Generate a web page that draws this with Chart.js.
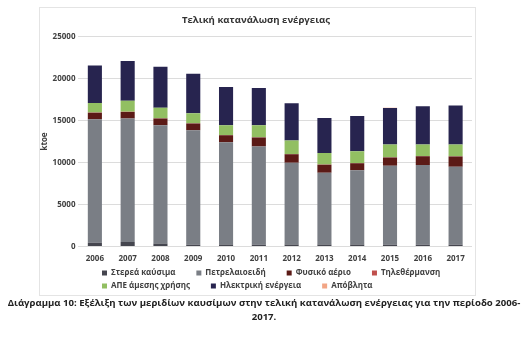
<!DOCTYPE html>
<html>
<head>
<meta charset="utf-8">
<script src="https://cdn.jsdelivr.net/npm/chart.js@4"></script>
<style>
  body { margin: 0; background: #fff; width: 528px; height: 337px; position: relative; font-family: "Open Sans", sans-serif; }
  #box { position: absolute; left: 39px; top: 7px; width: 437px; height: 289px; border: 1px solid #e4e4e4; box-sizing: border-box; }
  #wrap { position: absolute; left: 40px; top: 8px; width: 435px; height: 292px; }
  #caption { position: absolute; left: 0; top: 296px; width: 528px; text-align: center; font-size: 9.6px; font-weight: bold; color: #222; line-height: 14px; z-index: 2; }
</style>
</head>
<body>
<div id="box"></div>
<div id="wrap"><canvas id="energyChart"></canvas></div>
<div id="caption">Διάγραμμα 10: Εξέλιξη των μεριδίων καυσίμων στην τελική κατανάλωση ενέργειας για την περίοδο 2006-<br>2017.</div>
<script>
// Τελική κατανάλωση ενέργειας (ktoe), τιμές εκτιμημένες από το διάγραμμα
const years = ['2006', '2007', '2008', '2009', '2010', '2011', '2012', '2013', '2014', '2015', '2016', '2017'];
const sterea      = [440, 520, 360, 200, 240, 200, 240, 240, 240, 200, 200, 200];
const petrelaia   = [14720, 14720, 14080, 13645, 12170, 11690, 9735, 8540, 8820, 9415, 9500, 9300];
const fysikoAerio = [760, 760, 800, 800, 840, 1080, 1000, 960, 840, 960, 1040, 1200];
const tilethermansi = [30, 30, 30, 30, 30, 30, 30, 30, 30, 30, 30, 30];
const ape         = [1117, 1320, 1240, 1200, 1160, 1440, 1600, 1360, 1400, 1520, 1360, 1400];
const ilektriki   = [4480, 4720, 4880, 4680, 4560, 4440, 4440, 4160, 4200, 4360, 4560, 4640];
const apovlita    = [0, 0, 0, 0, 0, 0, 0, 0, 0, 40, 0, 0];

const tickFont = { family: '"Open Sans", sans-serif', size: 8, weight: 'bold' };
const legendFont = { family: '"Open Sans", sans-serif', size: 8, weight: 'bold' };

// το υπόμνημα του Excel ξεκινά λίγο πιο δεξιά, όχι κεντραρισμένο
const legendShift = {
    id: 'legendShift',
    beforeDraw(chart) {
        if (chart.legend) chart.legend.left = 57;
    }
};

document.addEventListener('DOMContentLoaded', () => {
    const ctx = document.getElementById('energyChart');

    new Chart(ctx, {
        type: 'bar',
        data: {
            labels: years,
            datasets: [
                { label: 'Στερεά καύσιμα', data: sterea, backgroundColor: '#45464f' },
                { label: 'Πετρελαιοειδή', data: petrelaia, backgroundColor: '#7a7e85' },
                { label: 'Φυσικό αέριο', data: fysikoAerio, backgroundColor: '#5b1a16' },
                { label: 'Τηλεθέρμανση', data: tilethermansi, backgroundColor: '#c0504d' },
                { label: 'ΑΠΕ άμεσης χρήσης', data: ape, backgroundColor: '#92bf62' },
                { label: 'Ηλεκτρική ενέργεια', data: ilektriki, backgroundColor: '#27244f' },
                { label: 'Απόβλητα', data: apovlita, backgroundColor: '#f2a585' }
            ]
        },
        plugins: [legendShift],
        options: {
            responsive: true,
            maintainAspectRatio: false,
            animation: false,
            layout: { padding: { left: 0, right: 3, top: 1, bottom: 0 } },
            datasets: { bar: { categoryPercentage: 1, barPercentage: 0.43 } },
            scales: {
                x: {
                    stacked: true,
                    grid: { display: false },
                    border: { display: false },
                    ticks: { color: '#404040', font: tickFont, padding: 0 }
                },
                y: {
                    stacked: true,
                    min: 0,
                    max: 25000,
                    ticks: {
                        stepSize: 5000,
                        color: '#404040',
                        font: tickFont,
                        padding: 3,
                        callback: value => String(value)
                    },
                    grid: { color: '#dcdcdc', drawTicks: false },
                    border: { display: false },
                    title: { display: true, text: 'ktoe', color: '#404040', font: tickFont, padding: 0 }
                }
            },
            plugins: {
                title: {
                    display: true,
                    text: 'Τελική κατανάλωση ενέργειας',
                    color: '#333333',
                    font: { family: '"Open Sans", sans-serif', size: 9.6, weight: 'bold' },
                    padding: { top: 6, bottom: 10 }
                },
                legend: {
                    position: 'bottom',
                    align: 'start',
                    labels: {
                        color: '#404040',
                        font: legendFont,
                        boxWidth: 5,
                        boxHeight: 5,
                        padding: 5,
                        generateLabels: chart => {
                            const items = Chart.defaults.plugins.legend.labels.generateLabels(chart);
                            items.forEach(item => { item.text = item.text + '\u2003\u2003'; });
                            return items;
                        }
                    }
                },
                tooltip: { enabled: false }
            }
        }
    });
});
</script>
</body>
</html>
